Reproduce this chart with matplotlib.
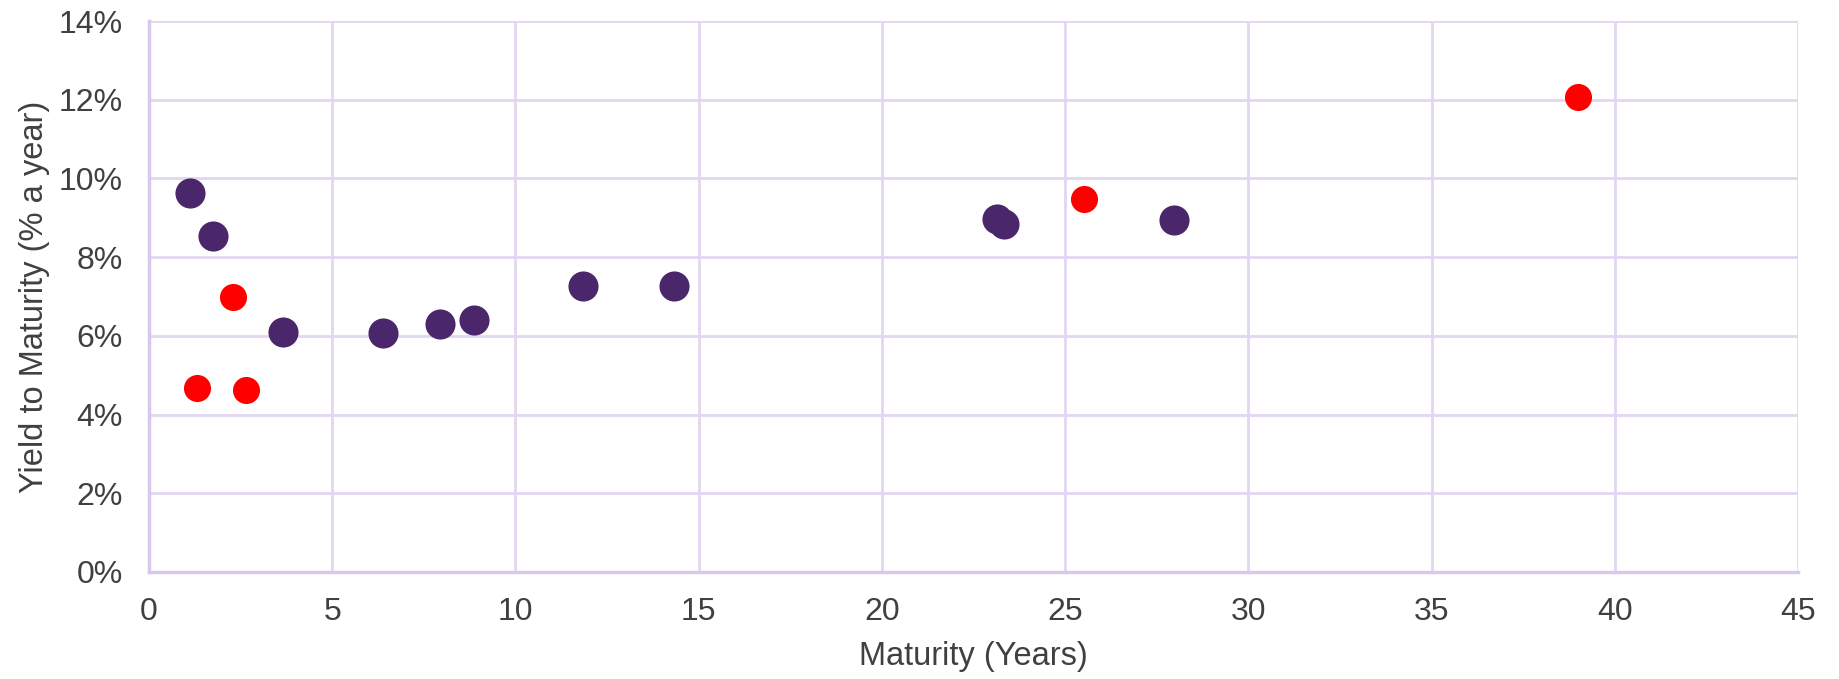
import matplotlib
matplotlib.use('Agg')
import matplotlib.pyplot as plt
from matplotlib.ticker import FuncFormatter, MultipleLocator

plt.rcParams['font.family'] = ['Liberation Sans', 'DejaVu Sans']

# bond maturities (years) and yields to maturity (%)
core_maturity = [1.12, 1.76, 3.65, 6.40, 7.94, 8.87, 11.84, 14.34, 23.14, 23.34, 27.98]
core_yield = [9.62, 8.55, 6.11, 6.08, 6.29, 6.40, 7.27, 7.27, 8.97, 8.85, 8.94]

flag_maturity = [1.31, 2.30, 2.66, 25.51, 38.99]
flag_yield = [4.68, 7.00, 4.62, 9.47, 12.06]

grid_col = '#E2D6F0'
text_col = '#404040'

fig = plt.figure(figsize=(18.39, 6.79), dpi=100)
ax = fig.add_axes([0.081, 0.1576, 0.8967, 0.8114])

ax.scatter(core_maturity, core_yield, s=470, color='#4A276B',
           linewidths=0, zorder=3)
ax.scatter(flag_maturity, flag_yield, s=380, color='#FF0000',
           linewidths=0, zorder=3)

ax.set_xlim(0, 45)
ax.set_ylim(0, 14)
ax.xaxis.set_major_locator(MultipleLocator(5))
ax.yaxis.set_major_locator(MultipleLocator(2))
ax.yaxis.set_major_formatter(FuncFormatter(lambda v, _: f'{v:.0f}%'))

ax.grid(True, color=grid_col, linewidth=2)
ax.set_axisbelow(True)
for side in ['top', 'right']:
    ax.spines[side].set_visible(False)
for side in ['left', 'bottom']:
    ax.spines[side].set_color('#D8C8EC')
    ax.spines[side].set_linewidth(2.5)

ax.tick_params(length=0, labelsize=23, colors=text_col)
ax.tick_params(axis='y', pad=19)
ax.tick_params(axis='x', pad=18)
ax.set_xlabel('Maturity (Years)', fontsize=23.5, color=text_col, labelpad=10)
ax.set_ylabel('Yield to Maturity (% a year)', fontsize=23.5, color=text_col, labelpad=6)

fig.savefig('out.png', dpi=100, facecolor='white')
